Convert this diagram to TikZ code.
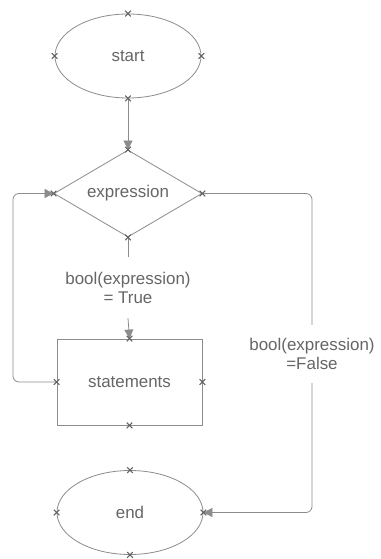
\documentclass[tikz,border=0pt]{standalone}
\usepackage{fontspec}
\setmainfont{Liberation Sans}
\usetikzlibrary{shapes.geometric,shapes.misc,arrows.meta}
\definecolor{ln}{HTML}{8C8C8C}
\definecolor{tx}{HTML}{666666}
\begin{document}
\begin{tikzpicture}[x=1bp,y=-1bp,
  every node/.style={font=\fontsize{17}{19}\selectfont, text=tx},
  term/.style={ellipse, draw=ln, line width=0.8bp, minimum width=146bp, minimum height=84bp, inner sep=0pt},
  decis/.style={diamond, draw=ln, line width=0.8bp, minimum width=148bp, minimum height=87bp, inner sep=0pt, aspect=1.7},
  proc/.style={rectangle, draw=ln, line width=0.8bp, minimum width=145bp, minimum height=86bp, inner sep=0pt},
  lbl/.style={align=center, inner sep=0pt},
  conn/.style={draw=ln, line width=0.8bp},
  arr/.style={conn, -{Triangle[length=9bp,width=9bp]}, ln},
  xmk/.style={cross out, draw=ln!70!black, line width=1.1bp, minimum size=4.5bp, inner sep=0pt}
]
\useasboundingbox[fill=white] (0,0) rectangle (380,559);
\node[term] (st) at (128,56) {start};
\node[decis] (dia) at (128,193.5) {expression};
\node[proc] (stm) at (129.5,382) {statements};
\node[term] (en) at (130,512.5) {end};
\node[lbl, minimum height=61bp] (tl) at (128,287.5) {bool(expression)\\= True};
\node[lbl, minimum height=58bp] (fl) at (312,354) {bool(expression)\\=False};
\coordinate (lx) at (13,0);

\draw[arr] (st.south) -- (dia.north);
\draw[conn] (dia.south) -- (tl.north);
\draw[arr] (tl.south) -- (stm.north);
\draw[arr, rounded corners=6bp] (stm.west) -| (lx |- dia.west) -- (dia.west);
\draw[conn, rounded corners=6bp] (dia.east) -| (fl.north);
\draw[arr, rounded corners=6bp] (fl.south) |- (en.east);

\foreach \p in {st.north,st.south,st.west,st.east,dia.north,dia.south,dia.west,dia.east,stm.north,stm.south,stm.west,stm.east,en.north,en.south,en.west,en.east}
  \node[xmk] at (\p) {};
\end{tikzpicture}
\end{document}
